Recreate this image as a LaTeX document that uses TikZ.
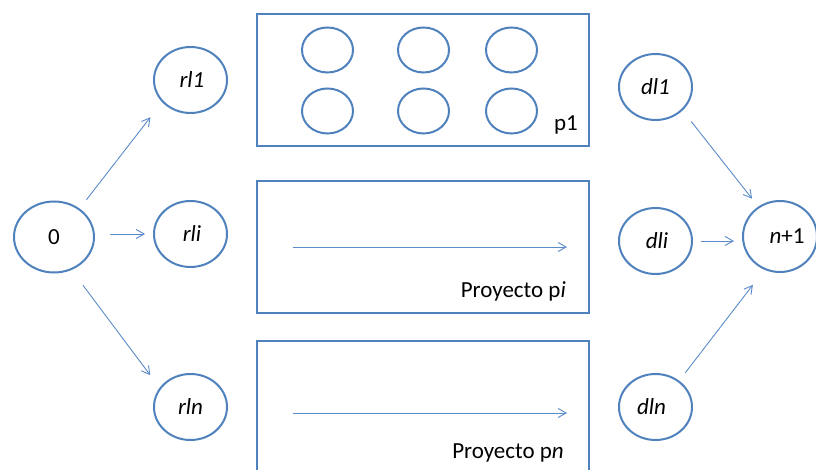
\documentclass[tikz,border=0pt]{standalone}
\usepackage{fontspec}
\setmainfont{Carlito}
\usetikzlibrary{arrows.meta,shapes.geometric}
\definecolor{nodeblue}{HTML}{4F81BD}
\definecolor{arrowblue}{HTML}{5B8BC9}
\begin{document}
\begin{tikzpicture}[x=1pt,y=-1pt,
  evnode/.style={ellipse,draw=nodeblue,line width=2pt,inner sep=0pt,minimum width=73pt,minimum height=66pt,font=\fontsize{23}{27}\selectfont},
  smallc/.style={ellipse,draw=nodeblue,line width=2pt,inner sep=0pt,minimum width=51pt,minimum height=45pt},
  projbox/.style={rectangle,draw=nodeblue,line width=2pt,inner sep=0pt,minimum width=332pt,minimum height=132pt},
  lbl/.style={inner sep=0pt,font=\fontsize{23}{27}\selectfont},
  conn/.style={draw=arrowblue,line width=0.9pt,-{Straight Barb[length=8pt,width=9pt]}}]
\useasboundingbox (0,0) rectangle (816,470);
\clip (0,0) rectangle (816,470);
% project boxes
\node[projbox] (p1) at (423,80) {};
\node[projbox] (pi) at (423,247) {};
\node[projbox] (pn) at (423,407) {};
% small circles in p1
\node[smallc] (c11) at (327.5,50) {};
\node[smallc] (c12) at (423.5,50) {};
\node[smallc] (c13) at (511.5,50) {};
\node[smallc] (c21) at (327.5,111) {};
\node[smallc] (c22) at (423.5,111) {};
\node[smallc] (c23) at (511.5,111) {};
% labels
\node[lbl,anchor=base east] (p1lbl) at (578,131) {p1};
\node[lbl,anchor=base east] (pilbl) at (566,298) {Proyecto p\textit{i}};
\node[lbl,anchor=base east] (pnlbl) at (564,458) {Proyecto p\textit{n}};
% event nodes
\node[evnode,minimum width=80pt,minimum height=71pt] (n0) at (54,237) {0};
\node[evnode] (rl1) at (190.5,80) {\hspace*{3pt}\textit{rl1}};
\node[evnode] (rli) at (190.5,234) {\hspace*{3pt}\textit{rli}};
\node[evnode] (rln) at (190.5,407) {\textit{rln}};
\node[evnode] (dl1) at (655.5,87) {\textit{dl1}};
\node[evnode] (dli) at (655.5,241) {\hspace*{3pt}\textit{dli}};
\node[evnode] (dln) at (655.5,407) {\textit{dln}\hspace*{8pt}};
\node[evnode,minimum width=74pt,minimum height=71pt] (nn) at (780,236.5) {\hspace*{14pt}\textit{n}+1};
% connectors
\draw[conn,shorten <=11pt,shorten >=19pt] (n0.48) -- (rl1.218);
\draw[conn,shorten <=15pt,shorten >=8pt] (n0.east |- rli.west) -- (rli.west);
\draw[conn,shorten <=19pt,shorten >=15.6pt] (n0.-62.5) -- (rln.148.8);
\draw[conn,shorten <=14pt,shorten >=10pt] (dl1.-41.3) -- (nn.126.7);
\draw[conn,shorten <=8pt,shorten >=8pt] (dli.east) -- (dli.east -| nn.west);
\draw[conn,shorten <=10pt,shorten >=19pt] (dln.48.1) -- (nn.245.5);
% arrows inside project boxes
\coordinate (pis) at (293,247);
\coordinate (pie) at (567,247);
\coordinate (pns) at (293,413);
\coordinate (pne) at (567,413);
\draw[conn] (pis) -- (pie);
\draw[conn] (pns) -- (pne);
\end{tikzpicture}
\end{document}
